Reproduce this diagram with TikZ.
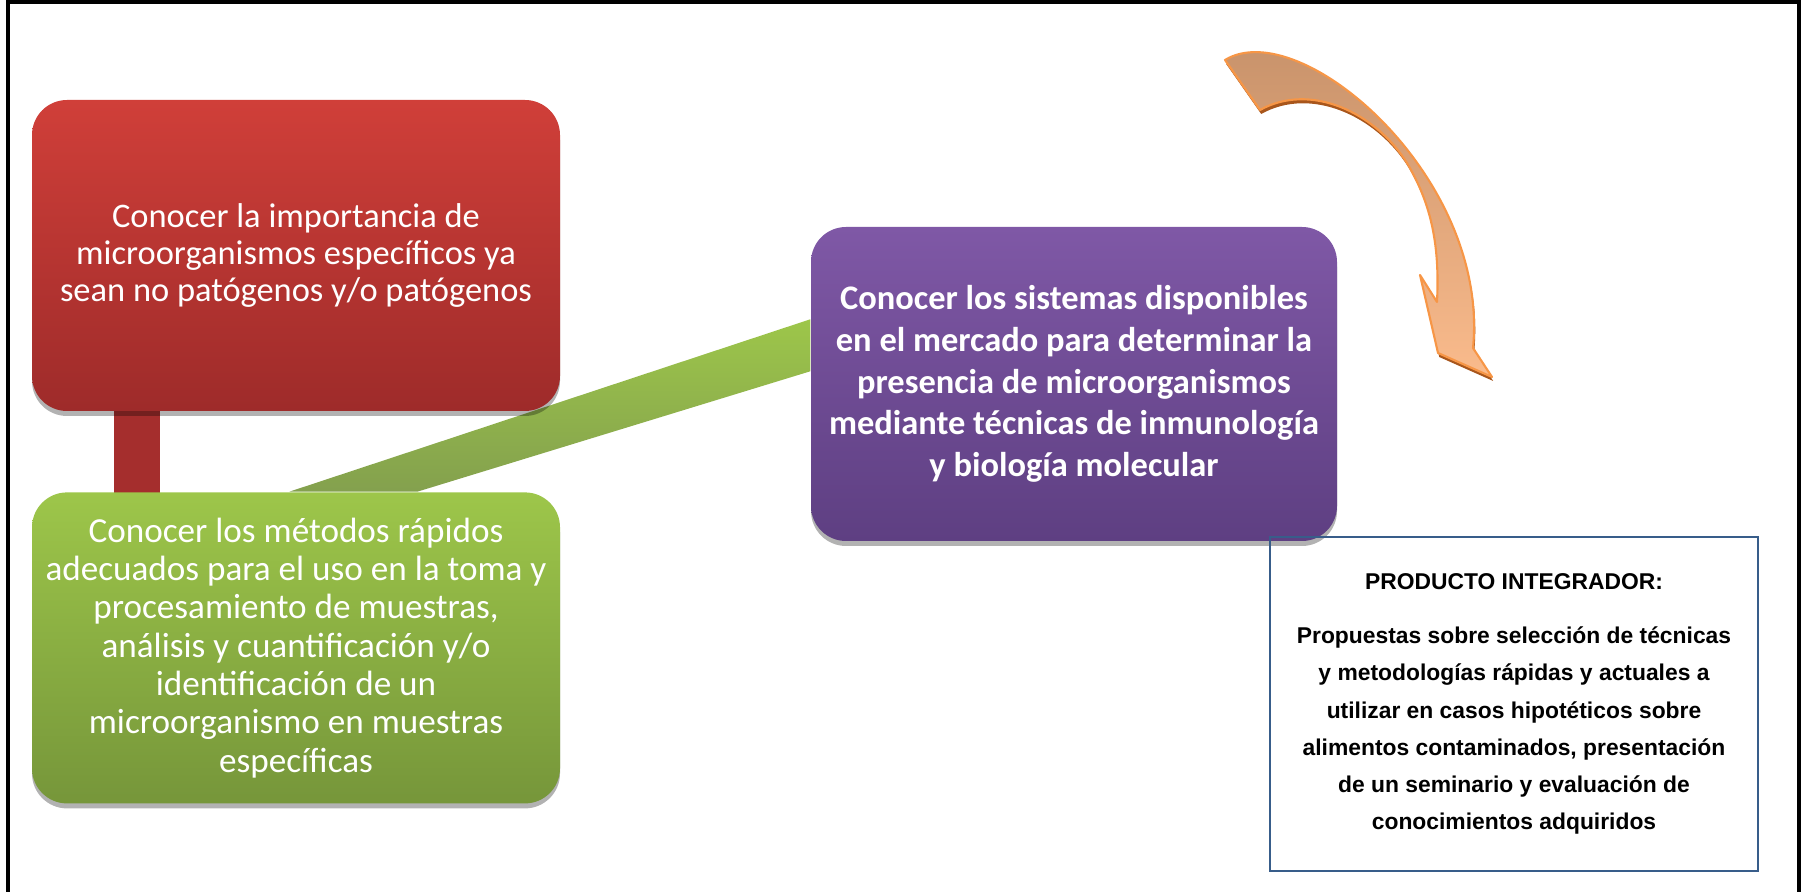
\documentclass[tikz,border=0pt]{standalone}
\usepackage{fontspec}
\setmainfont{Carlito}
\newfontfamily\arialfont{Liberation Sans}
\usepackage{tikz}
\usetikzlibrary{positioning}
\usetikzlibrary{calc}
\usetikzlibrary{shadows}
\usetikzlibrary{backgrounds}

\definecolor{redtop}{HTML}{D03F39}
\definecolor{redbot}{HTML}{9E2B2A}
\definecolor{greentop}{HTML}{9DC64A}
\definecolor{greenbot}{HTML}{76963A}
\definecolor{purpletop}{HTML}{7F58A6}
\definecolor{purplebot}{HTML}{5E3F82}
\definecolor{stemred}{HTML}{A52E2D}
\definecolor{arrowtan}{HTML}{C48F68}
\definecolor{arroworange}{HTML}{F39A50}
\definecolor{arrowlight}{HTML}{FABB8C}
\definecolor{arrowline}{HTML}{F79646}
\definecolor{arrowdark}{HTML}{A8561C}
\definecolor{boxblue}{HTML}{385D8A}

\begin{document}
\begin{tikzpicture}[
  objbox/.style={rectangle, rounded corners=0.35cm, minimum width=5.28cm, minimum height=3.11cm,
    align=center, text=white, inner sep=2pt,
    drop shadow={shadow xshift=0pt, shadow yshift=-0.05cm, opacity=0.3, fill=black}},
  redbox/.style={objbox, top color=redtop, bottom color=redbot, font={\fontsize{9.8}{10.6}\selectfont}},
  greenbox/.style={objbox, top color=greentop, bottom color=greenbot, font={\fontsize{10}{10.9}\selectfont}},
  purplebox/.style={objbox, minimum width=5.26cm, minimum height=3.14cm, top color=purpletop, bottom color=purplebot,
    font={\bfseries\fontsize{9.8}{11.9}\selectfont}},
  productbox/.style={rectangle, draw=boxblue, line width=0.7pt, minimum width=4.88cm, minimum height=3.34cm,
    align=center, inner sep=0pt, font={\arialfont\bfseries\fontsize{6.5}{10.6}\selectfont}},
  bandgreen/.style={top color=greentop, bottom color=greenbot!90},
  arrowshape/.style={insert path={(12.25,8.32) .. controls (13.0,8.78) and (14.9,7.15) .. (14.73,5.44)
    -- (14.92,5.15) -- (14.38,5.39) -- (14.20,6.17) -- (14.37,5.90)
    .. controls (14.40,6.5) and (14.3,6.9) .. (14.07,7.29)
    .. controls (13.75,7.8) and (13.1,8.1) .. (12.60,7.82) -- cycle}},
  curvearrow/.style={top color=arrowtan, middle color=arroworange, bottom color=arrowlight,
    draw=arrowline, line width=0.6pt, line join=round}
]
\useasboundingbox (0,0) rectangle (18.04,8.92);
\draw[line width=0.9pt] (0.08,-0.1) -- (0.08,8.90) -- (17.99,8.90) -- (17.99,-0.1);

\node[redbox] (importancia) at (2.96,6.365) {Conocer la importancia de\\ microorganismos específicos ya\\ sean no patógenos y/o patógenos};
\node[greenbox, below=0.8cm of importancia] (metodos) {Conocer los métodos rápidos\\ adecuados para el uso en la toma y\\ procesamiento de muestras,\\ análisis y cuantificación y/o\\ identificación de un\\ microorganismo en muestras\\ específicas};
\node[purplebox] (sistemas) at (10.74,5.08) {Conocer los sistemas disponibles\\ en el mercado para determinar la\\ presencia de microorganismos\\ mediante técnicas de inmunología\\ y biología molecular};
\node[productbox] (producto) at (15.14,1.88) {PRODUCTO INTEGRADOR:\\[4.8pt] Propuestas sobre selección de técnicas\\ y metodologías rápidas y actuales a\\ utilizar en casos hipotéticos sobre\\ alimentos contaminados, presentación\\ de un seminario y evaluación de\\ conocimientos adquiridos};

\begin{pgfonlayer}{background}
\fill[stemred] ($(importancia.south west)+(0.83,0.1)$) rectangle ($(metodos.north west)+(1.29,-0.1)$);
\shade[bandgreen] ($(metodos.north west)+(2.58,0)$) -- ($(sistemas.north west)+(0,-0.93)$)
  -- ($(sistemas.north west)+(0,-1.45)$) -- ($(metodos.north west)+(3.86,0)$) -- cycle;
\end{pgfonlayer}

\fill[arrowdark, shift={(0.012,-0.04)}, arrowshape];
\shade[curvearrow, arrowshape];
\end{tikzpicture}
\end{document}
